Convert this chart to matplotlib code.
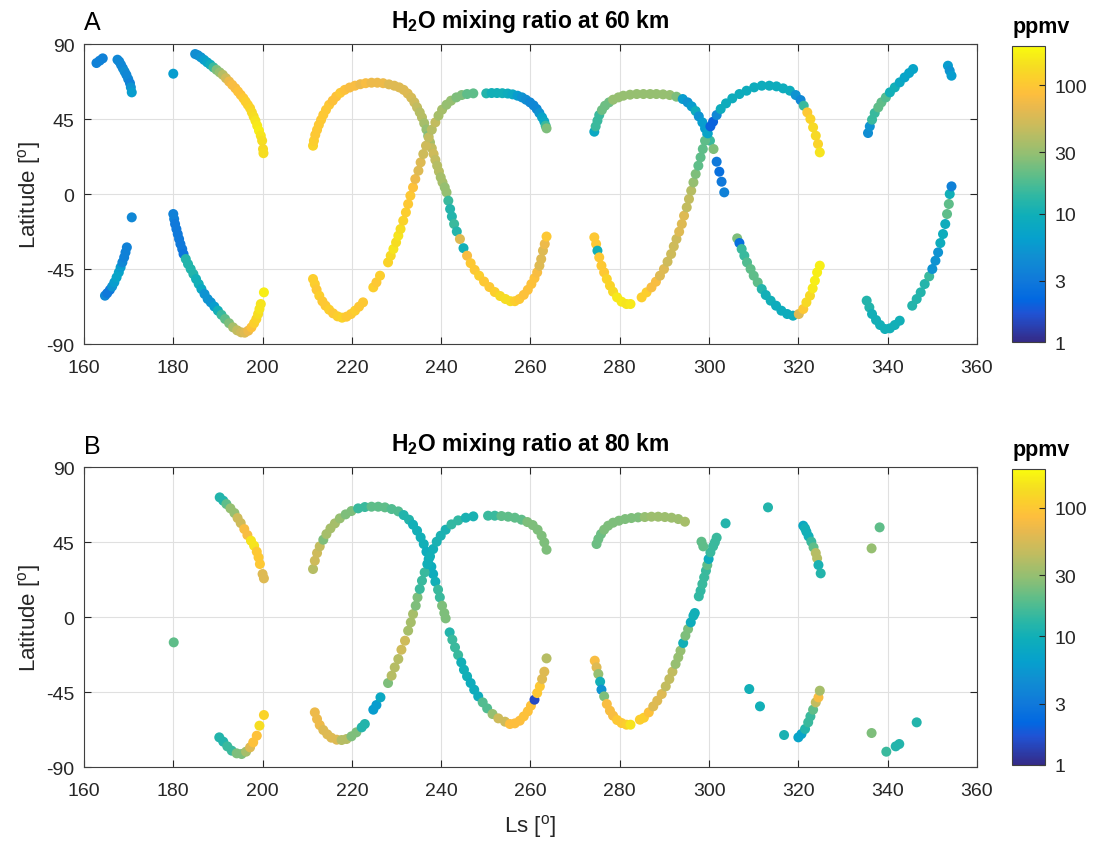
import numpy as np
import matplotlib
matplotlib.use("Agg")
import matplotlib.pyplot as plt
from matplotlib.colors import LinearSegmentedColormap, LogNorm

plt.rcParams['font.family'] = ['Liberation Sans', 'DejaVu Sans']
plt.rcParams['mathtext.fontset'] = 'custom'
plt.rcParams['mathtext.rm'] = 'Liberation Sans'
plt.rcParams['mathtext.bf'] = 'Liberation Sans:bold'
plt.rcParams['axes.unicode_minus'] = False

# ---- 60 km (panel A): Ls [deg], latitude [deg], H2O [ppmv]; one line per track ----
ls_60 = [162.8, 163.5, 164.2,
         167.5, 167.9, 168.3, 168.7, 169.1, 169.5, 169.9, 170.3, 170.5, 170.7,
         180.0,
         184.9, 185.5, 186.2, 186.9, 187.6, 188.3, 189.0, 189.7, 190.4, 191.1, 191.8, 192.5, 193.2, 193.9, 194.5,
         195.1, 195.7, 196.2, 196.7, 197.2, 197.6, 198.0, 198.4, 198.8, 199.2, 199.6, 199.9, 200.1, 200.2,
         164.7, 165.2, 165.8, 166.3, 166.8, 167.3, 167.8, 168.2, 168.6, 169.0, 169.3, 169.6,
         170.7,
         180.0, 180.2, 180.4, 180.7, 181.0, 181.3, 181.6, 182.0, 182.3, 182.8, 183.3, 183.9, 184.5, 185.1, 185.7,
         186.3, 187.0, 187.7, 188.4, 189.2, 190.0, 190.8, 191.6, 192.5, 193.4, 194.3, 195.2, 196.0, 196.8, 197.5,
         198.1, 198.6, 199.0, 199.3, 199.6, 200.3,
         211.3, 211.5, 211.8, 212.2, 212.6, 213.1, 213.6, 214.2, 214.9, 215.7, 216.5, 217.4, 218.4, 219.5, 220.7,
         221.9, 223.1, 224.4, 225.7, 227.0, 228.3, 229.5, 230.6, 231.6, 232.5, 233.3, 234.0, 234.6, 235.2, 235.7,
         236.2, 236.7, 237.1,
         237.5, 237.9, 238.3, 238.7, 239.1, 239.5, 239.9, 240.3, 240.8, 241.2, 241.6, 242.0, 242.4, 242.9, 243.5,
         244.2, 245.0, 245.8, 246.6, 247.5, 248.5, 249.6, 250.8, 252.0, 253.2, 254.4, 255.5, 256.5, 257.5, 258.5,
         259.4, 260.2, 260.9, 261.5, 262.0, 262.4, 262.8, 263.2, 263.6,
         211.3, 211.7, 212.1, 212.7, 213.4, 214.1, 214.9, 215.8, 216.8, 217.8, 218.8, 219.8, 220.7, 221.6, 222.5,
         224.8, 225.5, 226.3,
         228.1, 228.7, 229.3, 229.9, 230.4, 230.9, 231.5, 232.1, 232.6, 233.1, 233.7, 234.2, 234.9, 235.4, 236.0,
         236.6, 237.2, 237.9, 238.7, 239.4, 240.2, 241.2, 242.2, 243.4, 244.6, 245.8, 247.2,
         250.1, 251.3, 252.5, 253.7, 254.9, 256.0, 257.1, 258.1, 259.0, 259.9, 260.7, 261.4, 262.0, 262.6, 263.1,
         263.4, 263.6,
         274.3, 274.6, 275.0, 275.4, 276.0, 276.7, 277.6, 278.5, 279.7, 280.8, 282.3, 283.8, 285.3, 286.8, 288.2,
         289.7, 291.2, 292.7, 294.1, 295.2, 296.1, 297.0, 297.7, 298.5, 299.1, 299.6, 300.2, 301.0,
         301.7, 302.3, 302.8, 303.4,
         274.3, 274.7, 275.0, 275.4, 275.9, 276.5, 277.1, 277.8, 278.5, 279.4, 280.4, 281.5, 282.4,
         284.9, 286.0, 287.1, 288.1, 289.0, 289.9, 290.7, 291.5, 292.1, 292.7, 293.3, 293.9, 294.4, 295.0, 295.5,
         296.0, 296.5, 297.0, 297.6, 298.1, 298.6, 299.1, 299.7, 300.3, 300.9, 301.7, 302.6, 303.8, 305.2, 306.8,
         308.4, 310.1, 311.8, 313.5, 315.1, 316.6, 318.1, 319.4, 320.5, 321.2, 322.0, 322.7, 323.3, 323.9, 324.4,
         324.8,
         306.3, 306.8, 307.3, 307.9, 308.5, 309.3, 310.0, 310.9, 311.8, 312.7, 313.8, 315.0, 316.2, 317.5, 318.8,
         320.1, 321.1, 321.8, 322.6, 323.2, 323.7, 324.2, 324.8,
         335.6, 336.0, 336.5, 337.1, 337.9, 338.6, 339.6, 340.5, 341.6, 342.7, 343.8, 344.8, 345.7,
         353.5, 353.9, 354.3,
         335.3, 335.9, 336.5, 337.4, 338.3, 339.4, 340.5, 341.6, 342.7,
         345.5, 346.5, 347.4, 348.3, 349.3, 350.0, 350.7, 351.3, 351.8, 352.4, 352.9, 353.3, 353.7, 353.9, 354.3]
lat_60 = [78.6, 80.0, 81.4,
          80.6, 79.5, 77.5, 75.5, 73.5, 71.5, 69.0, 66.5, 64.0, 61.0,
          72.2,
          84, 83.3, 82, 80.5, 79, 77.6, 76, 74.5, 73, 71.5, 69.5, 67.5, 65.5, 63.5, 61.5,
          59.5, 57.5, 55.5, 53.5, 51.5, 49, 46.5, 44, 41, 38, 35, 32, 27, 24.5,
          -61, -59.5, -57.5, -55.5, -53, -50, -47, -44, -41, -38, -35, -32,
          -14,
          -12, -15, -18, -21, -24, -27, -30, -33, -36, -39, -42, -45, -48, -51, -54,
          -57, -60, -63, -65, -67.5, -70, -72.5, -75, -77.5, -80, -81.8, -83, -83.2, -82, -80,
          -77.5, -75, -72, -69, -66, -59,
          29, 32, 35.5, 38.5, 41.5, 44.5, 47.5, 50.5, 53.5, 56, 58.5, 60.7, 62.5, 63.9, 65,
          65.9, 66.5, 66.8, 66.8, 66.5, 65.8, 65, 64, 62.5, 60.3, 57.8, 55, 52, 49, 46,
          42.5, 38.7, 35,
          31, 27.5, 24, 20.5, 17, 13.5, 10, 7, 4, 1, -4, -9, -13.5, -18, -22.5,
          -27, -32.5, -37, -41.5, -45.5, -49, -52.5, -55.8, -58.8, -61.2, -63, -64.3, -64.3, -63, -60.5,
          -57.5, -54, -50.5, -47, -43, -39, -34, -30, -25.5,
          -51, -54, -57.4, -61, -64.4, -67, -69.4, -71.6, -73.4, -74.2, -73.6, -72, -70, -67.6, -65,
          -56, -53, -49,
          -41, -37, -33, -29, -25, -21, -16, -11, -6, -1, 4, 9, 14, 19, 24,
          29, 34, 38.6, 43, 47, 50.6, 53.6, 56, 58, 59.4, 60, 60.4,
          60.4, 60.6, 60.6, 60.5, 60.3, 59.8, 59, 58, 56.6, 55, 53.2, 51, 48.6, 46, 43.5,
          41, 39.4,
          37.4, 40.6, 44, 47.4, 50.4, 53, 55, 56.6, 58, 59, 59.6, 60, 60, 60, 60,
          59.8, 59.4, 58.4, 57, 55, 52.6, 49.8, 46.6, 43, 39.4, 36, 32, 27,
          19.4, 13.4, 7.4, 1.0,
          -26, -30, -34, -38, -43, -47, -51, -55, -58.6, -62, -64.6, -66, -66,
          -62, -59, -56, -52.6, -49, -45, -40.6, -36, -31.4, -27, -22.6, -18, -13, -8, -3,
          2, 7, 12, 17, 22, 27, 32, 36.4, 40.6, 43.4, 47.4, 51, 54.4, 57.4, 60,
          62, 64, 65, 65, 64.6, 63.4, 62, 59.4, 56.4, 53, 49, 45, 40, 35, 30,
          25,
          -26.6, -29.4, -33, -37, -41, -45, -49, -53, -57, -60.6, -64, -67, -70, -72, -73,
          -72, -69, -65, -61, -56.6, -52, -47, -43,
          36.6, 40.6, 44.6, 48.6, 52, 55, 58, 61, 64, 67, 70, 72.6, 75,
          77, 74, 71,
          -64, -68, -72, -75.6, -78.6, -81, -80.6, -78.6, -76,
          -67, -63, -59, -54, -49.4, -45, -40, -35, -29.4, -24, -18, -12, -6, 0, 4.6]
h2o_60 = [3.5, 3.5, 3.5,
          4, 4, 4, 4, 4.5, 4, 4, 3.5, 5, 6,
          6,
          4.5, 4.5, 5, 6, 7, 9, 15, 25, 30, 40, 50, 70, 80, 80, 90,
          90, 100, 110, 110, 120, 130, 140, 150, 160, 170, 150, 140, 130, 140,
          4, 3, 3, 5, 6, 7, 7, 6, 4, 3.5, 3.5, 3.5,
          4,
          3.5, 3.5, 3, 3, 3, 3, 3, 3, 2.8, 12, 12, 12, 12, 10, 10,
          8, 5, 5, 5, 6, 10, 15, 20, 25, 35, 45, 50, 60, 70, 90,
          110, 120, 140, 150, 150, 170,
          120, 110, 100, 100, 100, 100, 100, 100, 100, 90, 90, 100, 90, 80, 80,
          70, 80, 70, 70, 70, 60, 60, 60, 60, 60, 55, 50, 45, 40, 40,
          35, 30, 25,
          35, 45, 50, 45, 40, 40, 35, 35, 30, 30, 15, 12, 12, 15, 12,
          60, 10, 80, 100, 100, 110, 100, 100, 110, 130, 140, 140, 110, 100, 90,
          90, 90, 90, 80, 60, 60, 60, 70, 100,
          110, 110, 100, 110, 100, 100, 110, 100, 110, 120, 100, 100, 110, 100, 100,
          110, 100, 110,
          120, 130, 150, 140, 150, 140, 120, 110, 100, 100, 90, 70, 60, 60, 50,
          50, 45, 40, 45, 35, 35, 30, 30, 25, 25, 20, 20,
          12, 10, 10, 10, 9, 8, 6, 5, 4.5, 4, 4, 4, 5, 7, 8,
          15, 25,
          8, 15, 15, 15, 22, 22, 22, 30, 30, 30, 30, 30, 30, 30, 30,
          30, 30, 25, 6, 5, 6, 9, 5, 6, 6, 7, 15, 25,
          3, 2.5, 3, 3.5,
          100, 100, 10, 100, 100, 100, 120, 120, 130, 160, 160, 150, 160,
          110, 110, 80, 80, 60, 60, 50, 50, 50, 50, 60, 60, 60, 45, 45,
          40, 30, 25, 20, 20, 20, 20, 7, 2, 2, 4, 9, 9, 9, 9,
          9, 9, 9, 9, 9, 9, 9, 5, 4, 15, 100, 120, 130, 130, 120,
          150,
          25, 2.5, 15, 15, 18, 20, 20, 20, 12, 10, 10, 9, 9, 9, 9,
          60, 100, 130, 130, 160, 170, 170, 170,
          4.5, 5, 15, 15, 20, 20, 18, 10, 10, 8, 7, 7, 7,
          6, 5, 6,
          12, 12, 10, 10, 10, 10, 10, 10, 10,
          12, 12, 12, 12, 15, 5, 5, 5, 9, 9, 9, 20, 20, 10, 3.5]

# ---- 80 km (panel B) ----
ls_80 = [180.1,
         190.4, 191.2, 191.9, 192.8, 193.7, 194.4, 195.1, 195.9, 196.6, 197.4, 198.1, 198.7, 199.1, 199.4, 200.0, 200.3,
         190.3, 191.2, 192.1, 193.1, 194.2, 195.3, 196.3, 197.2, 197.9, 198.7, 199.3, 200.3,
         211.3, 211.7, 212.2, 212.8, 213.6, 214.3, 215.2, 216.2, 217.3, 218.6, 219.9, 221.4, 222.9, 224.4, 225.9,
         227.4, 228.9, 230.4, 231.6, 232.8, 233.7, 234.6, 235.4, 236.1, 236.7, 237.2, 237.8, 238.2, 238.7, 239.3,
         239.7, 240.2, 240.7, 241.0,
         241.9, 242.5, 243.1, 243.8, 244.5, 245.1, 245.8, 246.6, 247.4, 248.3, 249.3, 250.3, 251.5, 252.8, 254.3,
         255.4, 256.5, 257.6, 258.5, 259.4, 260.1, 260.9, 261.5, 262.1, 262.6, 263.1, 263.6,
         211.7, 212.2, 212.8, 213.6, 214.5, 215.4, 216.6, 217.7, 218.8, 219.9, 221.0, 222.2, 222.9,
         224.8, 225.5, 226.4,
         228.1, 228.9, 229.6, 230.4, 231.1, 231.9, 232.6, 233.2, 233.7, 234.3, 234.7, 235.2, 235.7, 236.3, 236.9,
         237.5, 238.2, 239.0, 239.9, 241.0, 242.3, 243.8, 245.5, 247.2,
         250.5, 252.0, 253.5, 255.0, 256.5, 258.0, 259.3, 260.5, 261.6, 262.5, 263.1, 263.6,
         274.8, 275.2, 275.8, 276.5, 277.4, 278.5, 279.8, 281.2, 282.6, 284.1, 285.6, 287.1, 288.6, 290.1, 291.6,
         293.1, 294.6,
         274.4, 274.8, 275.2, 275.6, 275.9, 276.5, 277.1, 277.8, 278.5, 279.4, 280.4, 281.5, 282.4,
         284.5, 285.4, 286.5, 287.5, 288.4, 289.4, 290.3, 291.1, 291.8, 292.5, 293.1, 293.6, 294.2, 294.7, 295.3,
         295.9, 296.5, 296.8,
         297.7, 298.1, 298.5, 298.9, 299.3, 299.6, 299.9, 300.3, 300.9, 301.3, 301.7, 303.7, 298.3, 298.7,
         313.2, 309.0, 311.4, 316.8,
         321.1, 321.5, 321.8, 322.3, 322.9, 323.4, 323.9, 324.2, 324.5, 325.0,
         320.0, 320.7, 321.5, 322.2, 322.7, 323.3, 323.9, 324.5, 324.8,
         338.2, 336.4, 336.4, 339.7, 341.8, 342.6, 346.5]
lat_80 = [-15.2,
          71.8, 69.8, 67.8, 65.2, 62.4, 59.4, 56.4, 52.8, 49.2, 45.8, 42.8, 39.2, 35.8, 31.8, 25.8, 23.2,
          -72.2, -74.8, -77.6, -80.2, -81.8, -82.2, -80.8, -78.2, -75.2, -71.2, -65.2, -58.8,
          28.8, 33.8, 38.4, 42.4, 46.4, 49.8, 53.2, 56.2, 59.2, 61.6, 63.6, 65.2, 66, 66.2, 66.2,
          65.8, 64.8, 63.4, 61.2, 58.4, 55.4, 51.8, 47.8, 43.8, 39.2, 34.8, 30.2, 25.8, 21.2, 16.4,
          11.8, 6.8, 2.4, -0.8,
          -9.2, -13.6, -18.2, -22.8, -27.2, -31.6, -35.6, -39.6, -43.6, -47.6, -51.2, -54.8, -58.2, -60.8, -62.8,
          -64.2, -63.8, -62.2, -59.6, -56.6, -53.2, -49.6, -45.6, -41.6, -37.2, -32.8, -24.8,
          -57.2, -61.2, -64.8, -67.8, -70.4, -72.4, -73.6, -73.8, -73.2, -71.6, -69.2, -66.2, -64.2,
          -55.6, -52.8, -48.2,
          -39.6, -35.2, -30.2, -25.2, -19.6, -14.2, -8.2, -3.2, 1.8, 6.8, 11.8, 16.8, 21.8, 26.8, 31.8,
          36.4, 40.8, 45.2, 48.8, 52.4, 55.6, 58, 59.6, 60.4,
          60.8, 60.8, 60.6, 60.2, 59.6, 58.4, 57, 55.2, 52.4, 48.8, 44.8, 40.4,
          43.8, 46.8, 49.8, 52.4, 54.8, 56.6, 57.8, 58.8, 59.4, 59.8, 60, 60.2, 60.2, 60, 59.6,
          58.8, 57.2,
          -26.2, -30.2, -34.2, -38.8, -43.6, -47.6, -52.2, -56.2, -59.2, -61.8, -63.6, -64.6, -64.6,
          -61.6, -60.4, -57.2, -53.6, -50.2, -46.2, -41.6, -37.2, -32.8, -28.2, -24.2, -20.2, -15.6, -11.2, -7.2,
          -3.2, 0.8, 2.4,
          12.4, 15.8, 19.8, 23.8, 27.8, 31.2, 34.8, 38.8, 42.4, 44.8, 47.6, 56.2, 45.2, 42.4,
          65.8, -43.2, -53.6, -70.8,
          54.8, 53.2, 51.2, 48.4, 45.2, 41.8, 38.4, 35.2, 31.2, 26.2,
          -72.2, -70.2, -67.2, -63.2, -59.6, -55.6, -51.2, -48.2, -44.2,
          53.8, 41.2, -69.6, -80.8, -77.6, -76.2, -63.2]
h2o_80 = [20,
          12, 12, 20, 30, 30, 50, 50, 80, 80, 150, 150, 100, 100, 100, 60, 60,
          12, 12, 15, 15, 25, 25, 35, 60, 90, 90, 140, 120,
          40, 50, 50, 45, 25, 35, 35, 35, 30, 25, 25, 15, 15, 20, 20,
          20, 18, 18, 12, 12, 10, 10, 10, 10, 9, 9, 9, 9, 10, 15,
          15, 25, 25, 25,
          12, 15, 15, 15, 10, 10, 10, 9, 9, 9, 18, 18, 30, 50, 50,
          85, 85, 85, 90, 90, 90, 1.5, 100, 100, 60, 60, 40,
          70, 70, 70, 60, 60, 60, 60, 40, 40, 25, 25, 12, 12,
          6, 6, 8,
          25, 40, 40, 40, 50, 50, 35, 35, 35, 25, 25, 15, 15, 15, 10,
          10, 10, 11, 11, 11, 14, 14, 11, 11,
          15, 15, 20, 20, 20, 20, 25, 25, 25, 25, 25, 25,
          22, 22, 22, 25, 25, 25, 25, 25, 25, 25, 30, 32, 32, 32, 32,
          32, 35,
          80, 60, 30, 10, 5, 25, 80, 80, 80, 100, 100, 110, 150,
          110, 110, 90, 60, 60, 60, 45, 45, 45, 30, 30, 30, 10, 25, 25,
          9, 10, 10,
          14, 14, 15, 15, 15, 20, 9, 15, 15, 15, 15, 12, 20, 20,
          12, 10, 10, 11,
          8, 10, 10, 10, 15, 20, 40, 40, 11, 12,
          7, 7, 12, 15, 15, 20, 45, 80, 35,
          20, 30, 25, 15, 12, 12, 12]

panel_titles = ['H$_\\mathbf{2}$O mixing ratio at 60 km', 'H$_\\mathbf{2}$O mixing ratio at 80 km']
panel_letters = ['A', 'B']
cbar_ticks = [1, 3, 10, 30, 100]

assert len(ls_60) == len(lat_60) == len(h2o_60), (len(ls_60), len(lat_60), len(h2o_60))
assert len(ls_80) == len(lat_80) == len(h2o_80), (len(ls_80), len(lat_80), len(h2o_80))

# MATLAB parula, sampled
parula_pts = [(0, (0.2081, 0.1663, 0.5292)), (6, (0.1253, 0.3242, 0.8303)),
              (9, (0.0060, 0.4086, 0.8828)), (13, (0.0629, 0.4737, 0.8554)),
              (18, (0.0641, 0.5570, 0.8240)), (22, (0.0239, 0.6287, 0.8038)),
              (27, (0.0590, 0.6838, 0.7254)), (31, (0.1801, 0.7177, 0.6424)),
              (35, (0.3482, 0.7424, 0.5473)), (40, (0.5709, 0.7485, 0.4494)),
              (45, (0.7525, 0.7384, 0.3768)), (50, (0.9139, 0.7258, 0.3063)),
              (53, (0.9938, 0.7455, 0.2403)), (56, (0.9880, 0.8066, 0.1794)),
              (59, (0.9626, 0.8705, 0.1309)), (63, (0.9763, 0.9831, 0.0538))]
parula = LinearSegmentedColormap.from_list('parula', [(i / 63, c) for i, c in parula_pts])
norm = LogNorm(vmin=1, vmax=200)

fig = plt.figure(figsize=(10.95, 8.45), dpi=100)
ax_rects = [[0.0767, 0.5917, 0.8155, 0.355], [0.0767, 0.0911, 0.8155, 0.355]]
cb_rects = [[0.9242, 0.594, 0.0301, 0.350], [0.9242, 0.0935, 0.0301, 0.350]]
letter_y = [0.9728, 0.471]
data = [(ls_60, lat_60, h2o_60), (ls_80, lat_80, h2o_80)]
dark = '#262626'

for k in range(2):
    ax = fig.add_axes(ax_rects[k])
    x, y, v = data[k]
    sc = ax.scatter(x, y, c=v, s=52, cmap=parula, norm=norm, edgecolors='none', zorder=3)
    ax.set_xlim(160, 360)
    ax.set_ylim(-90, 90)
    ax.set_xticks(np.arange(160, 361, 20))
    ax.set_yticks([-90, -45, 0, 45, 90])
    ax.grid(True, color='#e0e0e0', linewidth=0.8)
    ax.set_axisbelow(True)
    ax.tick_params(direction='in', top=True, right=True, labelsize=14, colors=dark, length=5)
    ax.tick_params(axis='x', pad=10.5)
    ax.tick_params(axis='y', pad=7)
    for sp in ax.spines.values():
        sp.set_color('#404040')
        sp.set_linewidth(0.8)
    ax.set_ylabel('Latitude [$^{\\mathrm{o}}$]', fontsize=16, color=dark, labelpad=2)
    ax.set_title(panel_titles[k], fontsize=16.5, fontweight='bold', color='black', pad=12)
    fig.text(0.0767, letter_y[k], panel_letters[k], fontsize=18, color='black', va='center')
    if k == 1:
        ax.set_xlabel('Ls [$^{\\mathrm{o}}$]', fontsize=16, color=dark, labelpad=10)

    cax = fig.add_axes(cb_rects[k])
    cb = fig.colorbar(sc, cax=cax)
    cb.set_ticks(cbar_ticks)
    cb.set_ticklabels([str(t) for t in cbar_ticks])
    cb.minorticks_off()
    cax.tick_params(direction='in', labelsize=14, colors=dark, length=4, pad=7)
    cb.outline.set_edgecolor('#404040')
    cb.outline.set_linewidth(0.8)
    cax.text(0.9, 1.047, 'ppmv', transform=cax.transAxes, ha='center', va='baseline',
             fontsize=15.5, fontweight='bold')

fig.savefig('out.png', dpi=100)
